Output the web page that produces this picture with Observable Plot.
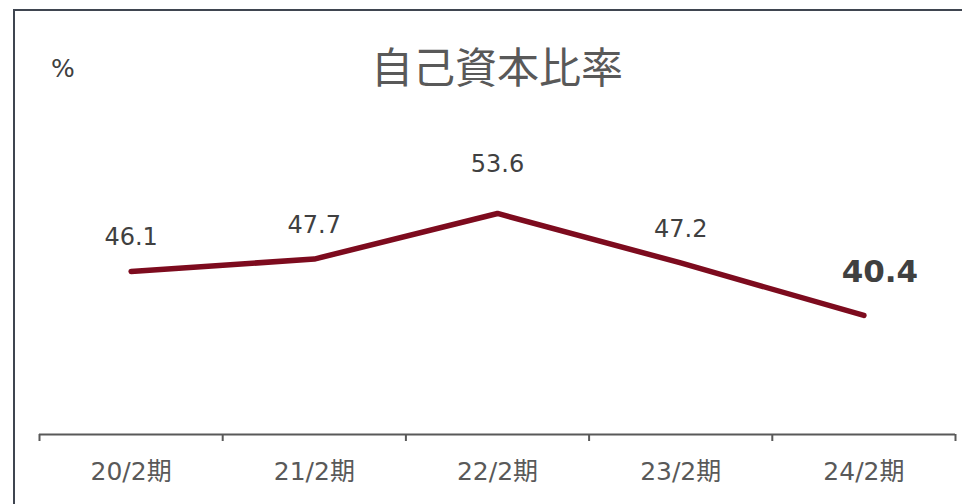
<!DOCTYPE html>
<html>
<head>
<meta charset="utf-8">
<script src="https://cdn.jsdelivr.net/npm/d3@7"></script>
<script src="https://cdn.jsdelivr.net/npm/@observablehq/plot@0.6"></script>
<style>
  html, body { margin: 0; padding: 0; background: #fff; }
  #wrap { position: relative; width: 962px; height: 504px; overflow: hidden; }
  #border { position: absolute; left: 13px; top: 9px; width: 960px; height: 500px;
            border-left: 2px solid #3f4550; border-top: 2px solid #3f4550; }
  #title { position: absolute; left: 0; width: 994px; top: 44px; text-align: center;
           font-family: "Noto Sans CJK JP", sans-serif; font-size: 42px; color: #595959; line-height: 1; }
  #unit { position: absolute; left: 51px; top: 56px; font-family: "DejaVu Sans", sans-serif;
          font-size: 25px; color: #404040; line-height: 1; }
  #chart { position: absolute; left: 0; top: 0; }
</style>
</head>
<body>
<div id="wrap">
  <div id="chart"></div>
  <div id="border"></div>
  <div id="title"></div>
  <div id="unit"></div>
</div>
<script>
const categories = ["20/2期", "21/2期", "22/2期", "23/2期", "24/2期"];
const values = [46.1, 47.7, 53.6, 47.2, 40.4];
const title = "自己資本比率";
const unit = "%";

const data = categories.map((c, i) => ({i, c, v: values[i]}));
const last = data.length - 1;
const boundaries = d3.range(-0.5, categories.length, 1);

const font = "'DejaVu Sans', 'Noto Sans CJK JP', sans-serif";

const chart = Plot.plot({
  width: 962,
  height: 504,
  marginLeft: 39,
  marginRight: 7,
  marginTop: 163.5,
  marginBottom: 70,
  style: {fontFamily: font, background: "transparent"},
  x: {type: "linear", domain: [-0.5, categories.length - 0.5], axis: null},
  y: {domain: [25, 60], axis: null},
  marks: [
    Plot.ruleY([25], {stroke: "#595959", strokeWidth: 2}),
    Plot.axisX({ticks: boundaries, tickSize: 7, tickFormat: () => "", label: null, stroke: "#595959", strokeWidth: 2, strokeOpacity: 1}),
    Plot.axisX({ticks: d3.range(categories.length), tickSize: 0, tickPadding: 28, label: null,
                tickFormat: i => categories[i], fontSize: 25, fill: "#595959", fontFamily: font}),
    Plot.line(data, {x: "i", y: "v", stroke: "#7d0b1e", strokeWidth: 5.5, strokeLinecap: "round", strokeLinejoin: "round"}),
    Plot.text(data.filter(d => d.i !== last && d.v < 50), {x: "i", y: "v", text: d => d.v.toFixed(1), dy: -34, fontSize: 24, fill: "#404040"}),
    Plot.text(data.filter(d => d.i !== last && d.v >= 50), {x: "i", y: "v", text: d => d.v.toFixed(1), dy: -49, fontSize: 24, fill: "#404040"}),
    Plot.text(data.filter(d => d.i === last), {x: "i", y: "v", text: d => d.v.toFixed(1), dx: 16, dy: -43, fontSize: 31, fontWeight: "bold", fill: "#404040"})
  ]
});
document.getElementById("chart").appendChild(chart);
document.getElementById("title").textContent = title;
document.getElementById("unit").textContent = unit;
</script>
</body>
</html>
